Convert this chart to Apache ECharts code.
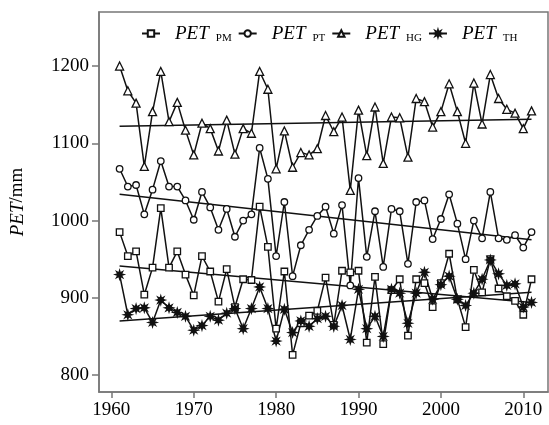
<!DOCTYPE html>
<html><head><meta charset="utf-8">
<script src="https://cdn.jsdelivr.net/npm/echarts@6/dist/echarts.min.js"></script>
<style>html,body{margin:0;padding:0;background:#fff}#c{width:549px;height:425px}</style>
</head><body><div id="c"></div>
<script>
const years = [1961,1962,1963,1964,1965,1966,1967,1968,1969,1970,
  1971,1972,1973,1974,1975,1976,1977,1978,1979,1980,
  1981,1982,1983,1984,1985,1986,1987,1988,1989,1990,
  1991,1992,1993,1994,1995,1996,1997,1998,1999,2000,
  2001,2002,2003,2004,2005,2006,2007,2008,2009,2010,2011];
const petPM = [985,954,960,904,939,1016,939,960,930,903,
  954,934,895,937,888,924,923,1018,966,860,
  934,826,867,877,883,926,865,935,933,935,
  842,927,840,910,924,851,924,919,888,919,
  957,898,862,936,907,950,912,902,896,878,924];
const petPT = [1067,1044,1046,1008,1040,1077,1044,1044,1026,1001,
  1037,1017,988,1015,979,1000,1008,1094,1054,954,
  1024,928,968,988,1006,1018,983,1020,916,1055,
  953,1012,940,1015,1012,944,1024,1026,976,1002,
  1034,996,950,1000,977,1037,977,975,981,965,985];
const petHG = [1200,1168,1152,1070,1141,1193,1128,1153,1117,1085,
  1126,1119,1090,1130,1086,1119,1113,1193,1170,1067,
  1116,1069,1088,1085,1093,1136,1115,1134,1039,1143,
  1084,1147,1074,1134,1133,1082,1158,1154,1121,1141,
  1177,1141,1100,1178,1125,1189,1158,1144,1139,1119,1142];
const petTH = [930,878,886,887,868,897,887,881,876,858,
  864,876,871,880,886,860,886,914,886,844,
  885,855,870,863,873,876,863,890,846,911,
  860,876,850,911,906,867,906,933,898,917,
  928,898,890,906,924,949,931,916,918,888,894];
const trendYears = [1961, 2011];
const trendPM = [941, 894];
const trendPT = [1034, 975];
const trendHG = [1122, 1131];
const trendTH = [870, 907];
const xTicks = [1960,1970,1980,1990,2000,2010];
const yTicks = [800,900,1000,1100,1200];
const seriesNames = ['PM','PT','HG','TH'];

function starPath(){
  const pts=[];
  for(let k=0;k<16;k++){
    const a=k*Math.PI/8-Math.PI/2, r=(k%2)?0.45:1;
    pts.push((50+50*r*Math.cos(a)).toFixed(1)+' '+(50+50*r*Math.sin(a)).toFixed(1));
  }
  return 'path://M'+pts.join(' L')+' Z';
}
const FONT='Liberation Serif';
const INK='#111';
function pair(vals){ return years.map((y,i)=>[y, vals[i]]); }
function trend(vals){ return trendYears.map((y,i)=>[y, vals[i]]); }
function mainSeries(name, vals, symbol, size, filled){
  return {name, type:'line', data:pair(vals), symbol, symbolSize:size,
    lineStyle:{color:INK,width:1.5}, showSymbol:true,
    itemStyle:{color: filled?INK:'#fff', borderColor:INK, borderWidth:1.3},
    emphasis:{disabled:true}, z:3};
}
function trendSeries(vals){
  return {type:'line', data:trend(vals), symbol:'none', lineStyle:{color:INK,width:1.5},
    emphasis:{disabled:true}, z:2};
}
const chart = echarts.init(document.getElementById('c'));
chart.setOption({
  animation:false,
  backgroundColor:'#fff',
  grid:{left:95,right:1,top:12,bottom:33,show:true,borderColor:'#777',borderWidth:1.5,backgroundColor:'transparent'},
  legend:{
    data:seriesNames, left:136, top:19, itemGap:6, itemWidth:18, itemHeight:8,
    formatter: n => '{i|PET}{s|'+n+'}',
    textStyle:{color:'#000', rich:{
      i:{fontFamily:FONT, fontStyle:'italic', fontSize:19, color:'#000', padding:[0,7,0,10]},
      s:{fontFamily:FONT, fontSize:11, color:'#000', padding:[10,0,0,0]}
    }}
  },
  xAxis:{type:'value', min:1958.5, max:2013,
    axisLine:{show:true, lineStyle:{color:'#777',width:1.5}},
    axisTick:{show:true, customValues:xTicks, length:6, lineStyle:{color:'#777',width:1.5}},
    axisLabel:{customValues:xTicks, formatter:v=>String(v), fontFamily:FONT, fontSize:19, color:'#000', margin:9},
    splitLine:{show:false}},
  yAxis:{type:'value', min:778, max:1270,
    axisLine:{show:true, lineStyle:{color:'#777',width:1.5}},
    axisTick:{show:true, customValues:yTicks, length:7, lineStyle:{color:'#777',width:1.5}},
    axisLabel:{customValues:yTicks, formatter:v=>String(v), fontFamily:FONT, fontSize:19, color:'#000', margin:10},
    splitLine:{show:false},
    name:'{i|PET}/mm', nameLocation:'middle', nameGap:72, nameRotate:90,
    nameTextStyle:{fontFamily:FONT, fontSize:19, color:'#000',
      rich:{i:{fontFamily:FONT, fontStyle:'italic', fontSize:19, color:'#000'}}}},
  series:[
    mainSeries('PM', petPM, 'rect', 6.5, false),
    mainSeries('PT', petPT, 'circle', 6.5, false),
    mainSeries('HG', petHG, 'triangle', 8, false),
    mainSeries('TH', petTH, starPath(), 8.5, true),
    trendSeries(trendPM), trendSeries(trendPT), trendSeries(trendHG), trendSeries(trendTH)
  ]
});
</script></body></html>
